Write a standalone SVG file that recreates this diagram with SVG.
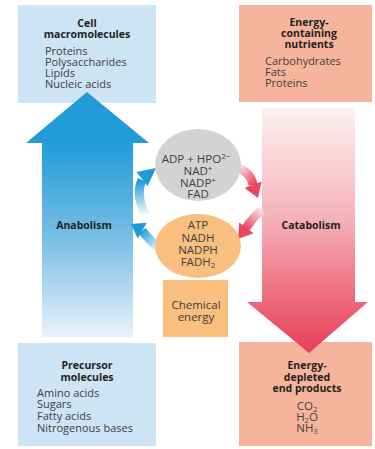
<svg xmlns="http://www.w3.org/2000/svg" width="375" height="449" viewBox="0 0 375 449">
<defs>
<linearGradient id="blueShaft" x1="0" y1="143" x2="0" y2="337" gradientUnits="userSpaceOnUse">
<stop offset="0" stop-color="#229cd8"/>
<stop offset="0.5" stop-color="#7abfe6"/>
<stop offset="1" stop-color="#e8f2fa"/>
</linearGradient>
<linearGradient id="redShaft" x1="0" y1="108" x2="0" y2="353" gradientUnits="userSpaceOnUse">
<stop offset="0" stop-color="#fdf1f2"/>
<stop offset="0.45" stop-color="#f5b2ba"/>
<stop offset="0.8" stop-color="#ec6677"/>
<stop offset="1" stop-color="#e63e58"/>
</linearGradient>
<linearGradient id="b1" x1="146" y1="216" x2="142" y2="180" gradientUnits="userSpaceOnUse">
<stop offset="0" stop-color="#ffffff"/>
<stop offset="1" stop-color="#1e9ad6"/>
</linearGradient>
<linearGradient id="b2" x1="160" y1="250" x2="142" y2="230" gradientUnits="userSpaceOnUse">
<stop offset="0" stop-color="#ffffff"/>
<stop offset="1" stop-color="#1e9ad6"/>
</linearGradient>
<linearGradient id="r1" x1="237" y1="168" x2="253" y2="185" gradientUnits="userSpaceOnUse">
<stop offset="0" stop-color="#fbe3e6"/>
<stop offset="1" stop-color="#e8485e"/>
</linearGradient>
<linearGradient id="r2" x1="262" y1="210" x2="246" y2="228" gradientUnits="userSpaceOnUse">
<stop offset="0" stop-color="#fbe3e6"/>
<stop offset="1" stop-color="#e8485e"/>
</linearGradient>
</defs>
<style>
text{font-family:"Open Sans",Lato,"DejaVu Sans",sans-serif;}
.t{font-size:10.5px;font-weight:bold;fill:#231f20;text-anchor:middle;}
.i{font-size:11px;fill:#404040;}
.c{font-size:11.5px;fill:#404040;text-anchor:middle;}
.blue{fill:#cde4f5;}
.sal{fill:#f7b49d;}
</style>
<rect width="375" height="449" fill="#ffffff"/>
<g id="cell-macromolecules">
<rect class="blue" x="18" y="5" width="138" height="98"/>
<text class="t" x="87" y="27">Cell</text>
<text class="t" x="87" y="38">macromolecules</text>
<text class="i" x="45" y="55">Proteins</text>
<text class="i" x="45" y="66">Polysaccharides</text>
<text class="i" x="45" y="77">Lipids</text>
<text class="i" x="45" y="88">Nucleic acids</text>
</g>
<g id="energy-containing-nutrients">
<rect class="sal" x="239" y="5" width="133" height="97"/>
<text class="t" x="309" y="26">Energy-</text>
<text class="t" x="309" y="37">containing</text>
<text class="t" x="309" y="48">nutrients</text>
<text class="i" x="265" y="65">Carbohydrates</text>
<text class="i" x="265" y="76">Fats</text>
<text class="i" x="265" y="87">Proteins</text>
</g>
<g id="precursor-molecules">
<rect class="blue" x="18" y="343" width="138" height="103"/>
<text class="t" x="87" y="369">Precursor</text>
<text class="t" x="87" y="381">molecules</text>
<text class="i" x="37" y="397">Amino acids</text>
<text class="i" x="37" y="408">Sugars</text>
<text class="i" x="37" y="420">Fatty acids</text>
<text class="i" x="37" y="432">Nitrogenous bases</text>
</g>
<g id="energy-depleted-end-products">
<rect class="sal" x="239" y="342" width="133" height="104"/>
<text class="t" x="307" y="369">Energy-</text>
<text class="t" x="307" y="381">depleted</text>
<text class="t" x="307" y="392">end products</text>
<text class="c" x="307" y="410" font-size="11">CO<tspan font-size="7.5" dy="2">2</tspan></text>
<text class="c" x="307" y="421" font-size="11">H<tspan font-size="7.5" dy="2">2</tspan><tspan dy="-2">O</tspan></text>
<text class="c" x="307" y="432" font-size="11">NH<tspan font-size="7.5" dy="2">3</tspan></text>
</g>
<g id="connectors">
<polygon id="anabolism-arrow" points="42,337 133,337 133,143 149,143 87,92 26,143 42,143" fill="url(#blueShaft)"/>
<polygon id="catabolism-arrow" points="262,108 355,108 355,302 368,302 309,353 247,302 262,302" fill="url(#redShaft)"/>
<path d="M146,216 Q135,195 142,180" fill="none" stroke="url(#b1)" stroke-width="9"/>
<polygon points="156,168 136.4,171.9 147.6,186.1" fill="#1e9ad6"/>
<path d="M160,250 Q150,240 142,231" fill="none" stroke="url(#b2)" stroke-width="9"/>
<polygon points="131,224 146.7,222.8 137.7,238.4" fill="#1e9ad6"/>
<path d="M237,168 Q251,172 253,185" fill="none" stroke="url(#r1)" stroke-width="9"/>
<polygon points="258,198 261.6,181.6 244.6,188" fill="#e8485e"/>
<path d="M262,210 Q254,216 246,228" fill="none" stroke="url(#r2)" stroke-width="9"/>
<polygon points="238,239 253.6,233.2 239.2,222.4" fill="#e8485e"/>
<text class="t" x="84" y="229">Anabolism</text>
<text class="t" x="311" y="229">Catabolism</text>
</g>
<g id="adp-pool">
<ellipse cx="198" cy="165" rx="43" ry="36" fill="#d3d3d3"/>
<text class="c" x="196" y="163">ADP + HPO<tspan font-size="8" dy="-4">2−</tspan></text>
<text class="c" x="198" y="175">NAD<tspan font-size="8" dy="-4">+</tspan></text>
<text class="c" x="198" y="187">NADP<tspan font-size="8" dy="-4">+</tspan></text>
<text class="c" x="198" y="198">FAD</text>
</g>
<g id="atp-pool">
<ellipse cx="198" cy="246" rx="43" ry="32" fill="#f8bf7e"/>
<text class="c" x="198" y="229">ATP</text>
<text class="c" x="198" y="242">NADH</text>
<text class="c" x="198" y="254">NADPH</text>
<text class="c" x="198" y="266">FADH<tspan font-size="8" dy="2">2</tspan></text>
</g>
<g id="chemical-energy">
<rect x="163" y="280" width="65" height="57" fill="#f8bf7e"/>
<text class="c" x="196" y="309" font-size="10.5">Chemical</text>
<text class="c" x="196" y="321" font-size="10.5">energy</text>
</g>
</svg>
